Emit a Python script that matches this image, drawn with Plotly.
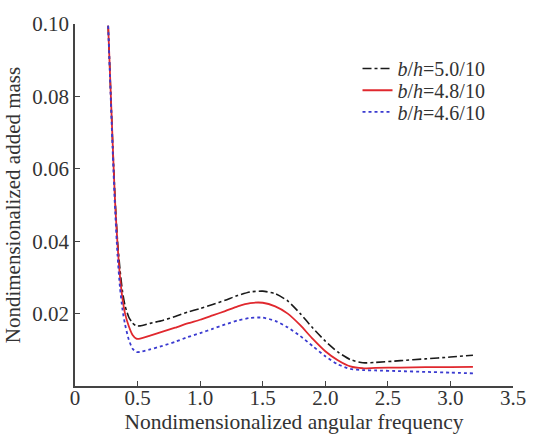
import plotly.graph_objects as go

freq = [0.265, 0.28, 0.30, 0.32, 0.34, 0.36, 0.38, 0.40, 0.43, 0.46, 0.49, 0.52,
        0.6, 0.7, 0.8, 0.9, 1.0, 1.1, 1.2, 1.3, 1.4, 1.5, 1.6, 1.7, 1.8, 1.9,
        2.0, 2.1, 2.2, 2.3, 2.4, 2.6, 2.8, 3.0, 3.18]

mass_50 = [0.0995, 0.086, 0.068, 0.052, 0.040, 0.032, 0.026, 0.0222, 0.0190, 0.0174, 0.0166, 0.0166,
           0.0173, 0.0181, 0.0192, 0.0204, 0.0214, 0.0225, 0.0237, 0.0250, 0.0260, 0.0262, 0.0255, 0.0235, 0.0200, 0.0160,
           0.0124, 0.0094, 0.0073, 0.0064, 0.0065, 0.0070, 0.0075, 0.0080, 0.0085]

mass_48 = [0.0995, 0.086, 0.068, 0.051, 0.039, 0.030, 0.024, 0.0200, 0.0165, 0.0141, 0.0131, 0.0131,
           0.0139, 0.0150, 0.0161, 0.0173, 0.0183, 0.0195, 0.0207, 0.0220, 0.0229, 0.0230, 0.0220, 0.0200, 0.0168, 0.0130,
           0.0096, 0.0071, 0.0054, 0.0049, 0.0050, 0.0051, 0.0052, 0.0052, 0.0053]

mass_46 = [0.0995, 0.085, 0.066, 0.049, 0.036, 0.027, 0.021, 0.0170, 0.0128, 0.0103, 0.0094, 0.0094,
           0.0101, 0.0111, 0.0122, 0.0135, 0.0146, 0.0158, 0.0170, 0.0181, 0.0188, 0.0189, 0.0180, 0.0162, 0.0138, 0.0110,
           0.0082, 0.0060, 0.0047, 0.0044, 0.0043, 0.0041, 0.0039, 0.0037, 0.0035]

labels = ["<i>b</i>/<i>h</i>=5.0/10", "<i>b</i>/<i>h</i>=4.8/10", "<i>b</i>/<i>h</i>=4.6/10"]

x_ticks = [0, 0.5, 1.0, 1.5, 2.0, 2.5, 3.0, 3.5]
x_ticktext = ["0", "0.5", "1.0", "1.5", "2.0", "2.5", "3.0", "3.5"]
y_ticks = [0.02, 0.04, 0.06, 0.08, 0.10]
y_ticktext = ["0.02", "0.04", "0.06", "0.08", "0.10"]

font_family = "Liberation Serif, Times New Roman, serif"
text_color = "#333333"

fig = go.Figure()
fig.add_trace(go.Scatter(x=freq, y=mass_50, mode="lines", name=labels[0], legend="legend",
                         line=dict(color="#1a1a1a", width=1.6, dash="dashdot", shape="spline", smoothing=0.6)))
fig.add_trace(go.Scatter(x=freq, y=mass_48, mode="lines", name=labels[1], legend="legend2",
                         line=dict(color="#e0282e", width=1.8, shape="spline", smoothing=0.6)))
fig.add_trace(go.Scatter(x=freq, y=mass_46, mode="lines", name=labels[2], legend="legend3",
                         line=dict(color="#3a3ad0", width=1.8, dash="dot", shape="spline", smoothing=0.6)))

leg_common = dict(x=0.645, xanchor="left", yanchor="middle", bgcolor="rgba(0,0,0,0)",
                  font=dict(family=font_family, size=20, color=text_color), itemwidth=30)

fig.update_layout(
    width=538, height=442,
    margin=dict(l=74, r=14, t=20, b=56),
    paper_bgcolor="white", plot_bgcolor="white",
    font=dict(family=font_family, size=21, color=text_color),
    showlegend=True,
    legend=dict(y=0.877, **leg_common),
    legend2=dict(y=0.817, **leg_common),
    legend3=dict(y=0.757, **leg_common),
    xaxis=dict(range=[0, 3.5], tickvals=x_ticks, ticktext=x_ticktext,
               showgrid=False, zeroline=False, showline=True, linecolor="#444444", linewidth=1.5,
               ticks="inside", ticklen=5, tickcolor="#444444", tickwidth=1.2,
               ticklabelstandoff=-8,
               tickfont=dict(family=font_family, size=21, color=text_color),
               title=dict(text="Nondimensionalized angular frequency", standoff=4,
                          font=dict(family=font_family, size=21.5, color=text_color))),
    yaxis=dict(range=[0, 0.10], tickvals=y_ticks, ticktext=y_ticktext,
               showgrid=False, zeroline=False, showline=True, linecolor="#444444", linewidth=1.5,
               ticks="inside", ticklen=5, tickcolor="#444444", tickwidth=1.2,
               tickfont=dict(family=font_family, size=21, color=text_color),
               title=dict(text="Nondimensionalized added mass", standoff=6,
                          font=dict(family=font_family, size=21, color=text_color))),
)

fig.write_html("out.html")
